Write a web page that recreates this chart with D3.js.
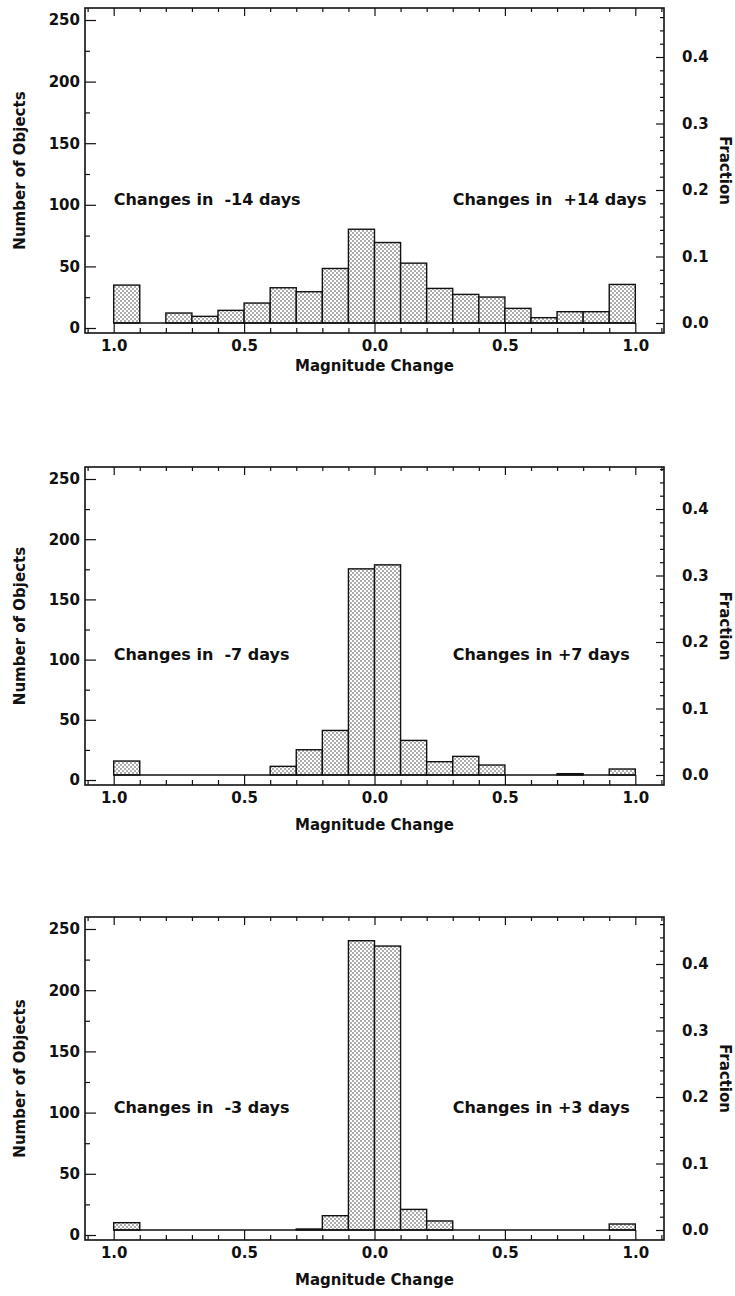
<!DOCTYPE html>
<html>
<head>
<meta charset="utf-8">
<script src="https://cdn.jsdelivr.net/npm/d3@7"></script>
<style>
  body { margin: 0; background: #fff; }
  text { font-family: "DejaVu Sans", sans-serif; font-weight: bold; fill: #111; }
  .note { white-space: pre; }
</style>
</head>
<body>
<div id="chart"></div>
<script>
'use strict';

// histogram bins (lower edge of each 0.1 mag bin)
var binStarts = [-1.0, -0.9, -0.8, -0.7, -0.6, -0.5, -0.4, -0.3, -0.2, -0.1,
                  0.0,  0.1,  0.2,  0.3,  0.4,  0.5,  0.6,  0.7,  0.8,  0.9];
var binWidth = 0.1;

// fraction of objects per bin
var frac14 = [0.057, 0, 0.015, 0.010, 0.019, 0.030, 0.053, 0.047, 0.082, 0.141,
              0.121, 0.090, 0.052, 0.043, 0.039, 0.022, 0.008, 0.017, 0.017, 0.058];
var frac7  = [0.021, 0, 0, 0, 0, 0, 0.013, 0.038, 0.067, 0.310,
              0.316, 0.052, 0.020, 0.028, 0.015, 0, 0, 0.002, 0, 0.009];
var frac3  = [0.011, 0, 0, 0, 0, 0, 0, 0.0015, 0.0215, 0.435,
              0.427, 0.031, 0.0136, 0, 0, 0, 0, 0, 0, 0.009];

var leftNotes  = ["Changes in  -14 days", "Changes in  -7 days", "Changes in  -3 days"];
var rightNotes = ["Changes in  +14 days", "Changes in +7 days", "Changes in +3 days"];

// axis ticks
var countTicks = [0, 50, 100, 150, 200, 250];
var countMinor = [25, 75, 125, 175, 225];
var fracTicks = [0, 0.1, 0.2, 0.3, 0.4];
var magTicks = [-1, -0.5, 0, 0.5, 1];

var series = [frac14, frac7, frac3];

// layout
var width = 735, height = 1296;
var frameLeft = 85, frameRight = 664;
var panels = [{top: 8, bottom: 333, title: 38}, {top: 467, bottom: 785, title: 45}, {top: 917, bottom: 1240, title: 45}];

var svg = d3.select("#chart")
  .append("svg")
    .attr("width", width)
    .attr("height", height);

// stipple fill like the original
var pat = svg.append("defs").append("pattern")
    .attr("id", "dots")
    .attr("patternUnits", "userSpaceOnUse")
    .attr("width", 4)
    .attr("height", 4);
pat.append("rect").attr("width", 4).attr("height", 4).attr("fill", "#fff");
pat.append("circle").attr("cx", 1).attr("cy", 1).attr("r", 0.8).attr("fill", "#444");
pat.append("circle").attr("cx", 3).attr("cy", 3).attr("r", 0.8).attr("fill", "#444");

var x = d3.scaleLinear()
  .domain([-1.11, 1.11])
  .range([frameLeft, frameRight]);

var xMinor = d3.range(-1.1, 1.1001, 0.1)
  .map(function(d) { return Math.round(d * 10) / 10; })
  .filter(function(d) { return magTicks.indexOf(d) < 0; });
var fracMinor = d3.range(0.02, 0.4701, 0.02)
  .map(function(d) { return Math.round(d * 100) / 100; })
  .filter(function(d) { return Math.round(d * 100) % 10 != 0; });

function drawPanel(p, i) {
  var data = series[i];
  var g = svg.append("g");

  var yCount = d3.scaleLinear()
    .domain([0, 250])
    .range([p.bottom - 5, p.top + 12]);
  var yFrac = d3.scaleLinear()
    .domain([0, 0.4])
    .range([p.bottom - 10, p.bottom - 10 - 266]);

  // bars
  var bins = binStarts.map(function(b, j) { return {x0: b, x1: b + binWidth, v: data[j]}; })
    .filter(function(d) { return d.v > 0; });

  g.append("g")
    .selectAll("rect")
    .data(bins)
    .enter()
    .append("rect")
      .attr("x", function(d) { return x(d.x0); })
      .attr("y", function(d) { return yFrac(d.v); })
      .attr("width", function(d) { return x(d.x1) - x(d.x0); })
      .attr("height", function(d) { return yFrac(0) - yFrac(d.v); })
      .attr("fill", "url(#dots)")
      .attr("stroke", "#111")
      .attr("stroke-width", 1.4);

  // baseline of the histogram
  g.append("line")
    .attr("x1", x(-1)).attr("x2", x(1))
    .attr("y1", yFrac(0)).attr("y2", yFrac(0))
    .attr("stroke", "#111")
    .attr("stroke-width", 1.4);

  // axes, ticks pointing inward
  function styleAxis(sel) {
    sel.select(".domain").remove();
    sel.selectAll("line").attr("stroke", "#111").attr("stroke-width", 1.2);
    sel.selectAll("text")
      .style("font-size", "15px")
      .style("font-family", "'DejaVu Sans', sans-serif")
      .style("font-weight", "bold")
      .attr("fill", "#111");
  }

  g.append("g")
    .attr("transform", "translate(" + frameLeft + ",0)")
    .call(d3.axisLeft(yCount).tickValues(countTicks).tickSize(-11).tickPadding(5))
    .call(styleAxis);
  g.append("g")
    .attr("transform", "translate(" + frameLeft + ",0)")
    .call(d3.axisLeft(yCount).tickValues(countMinor).tickSize(-5).tickFormat(""))
    .call(styleAxis);

  g.append("g")
    .attr("transform", "translate(" + frameRight + ",0)")
    .call(d3.axisRight(yFrac).tickValues(fracTicks).tickSize(-8).tickPadding(18)
      .tickFormat(d3.format(".1f")))
    .call(styleAxis);
  g.append("g")
    .attr("transform", "translate(" + frameRight + ",0)")
    .call(d3.axisRight(yFrac).tickValues(fracMinor).tickSize(-4).tickFormat(""))
    .call(styleAxis);

  g.append("g")
    .attr("transform", "translate(0," + p.bottom + ")")
    .call(d3.axisBottom(x).tickValues(magTicks).tickSize(-10).tickPadding(7)
      .tickFormat(function(d) { return Math.abs(d).toFixed(1); }))
    .call(styleAxis);
  g.append("g")
    .attr("transform", "translate(0," + p.bottom + ")")
    .call(d3.axisBottom(x).tickValues(xMinor).tickSize(-5).tickFormat(""))
    .call(styleAxis);

  g.append("g")
    .attr("transform", "translate(0," + p.top + ")")
    .call(d3.axisTop(x).tickValues(magTicks).tickSize(-8).tickFormat(""))
    .call(styleAxis);
  g.append("g")
    .attr("transform", "translate(0," + p.top + ")")
    .call(d3.axisTop(x).tickValues(xMinor).tickSize(-4).tickFormat(""))
    .call(styleAxis);

  // frame
  g.append("rect")
    .attr("x", frameLeft).attr("y", p.top)
    .attr("width", frameRight - frameLeft)
    .attr("height", p.bottom - p.top)
    .attr("fill", "none")
    .attr("stroke", "#111")
    .attr("stroke-width", 1.6);

  // titles
  var midY = (p.top + p.bottom) / 2;
  g.append("text")
    .attr("transform", "translate(25," + midY + ") rotate(-90)")
    .attr("text-anchor", "middle")
    .style("font-size", "15px")
    .text("Number of Objects");
  g.append("text")
    .attr("transform", "translate(720," + midY + ") rotate(90)")
    .attr("text-anchor", "middle")
    .style("font-size", "15px")
    .text("Fraction");
  g.append("text")
    .attr("x", x(0))
    .attr("y", p.bottom + p.title)
    .attr("text-anchor", "middle")
    .style("font-size", "15px")
    .text("Magnitude Change");

  // notes
  g.append("text")
    .attr("class", "note")
    .attr("x", x(-1))
    .attr("y", yCount(100))
    .style("font-size", "16px")
    .text(leftNotes[i]);
  g.append("text")
    .attr("class", "note")
    .attr("x", x(0.3))
    .attr("y", yCount(100))
    .style("font-size", "16px")
    .text(rightNotes[i]);
}

panels.forEach(drawPanel);
</script>
</body>
</html>
